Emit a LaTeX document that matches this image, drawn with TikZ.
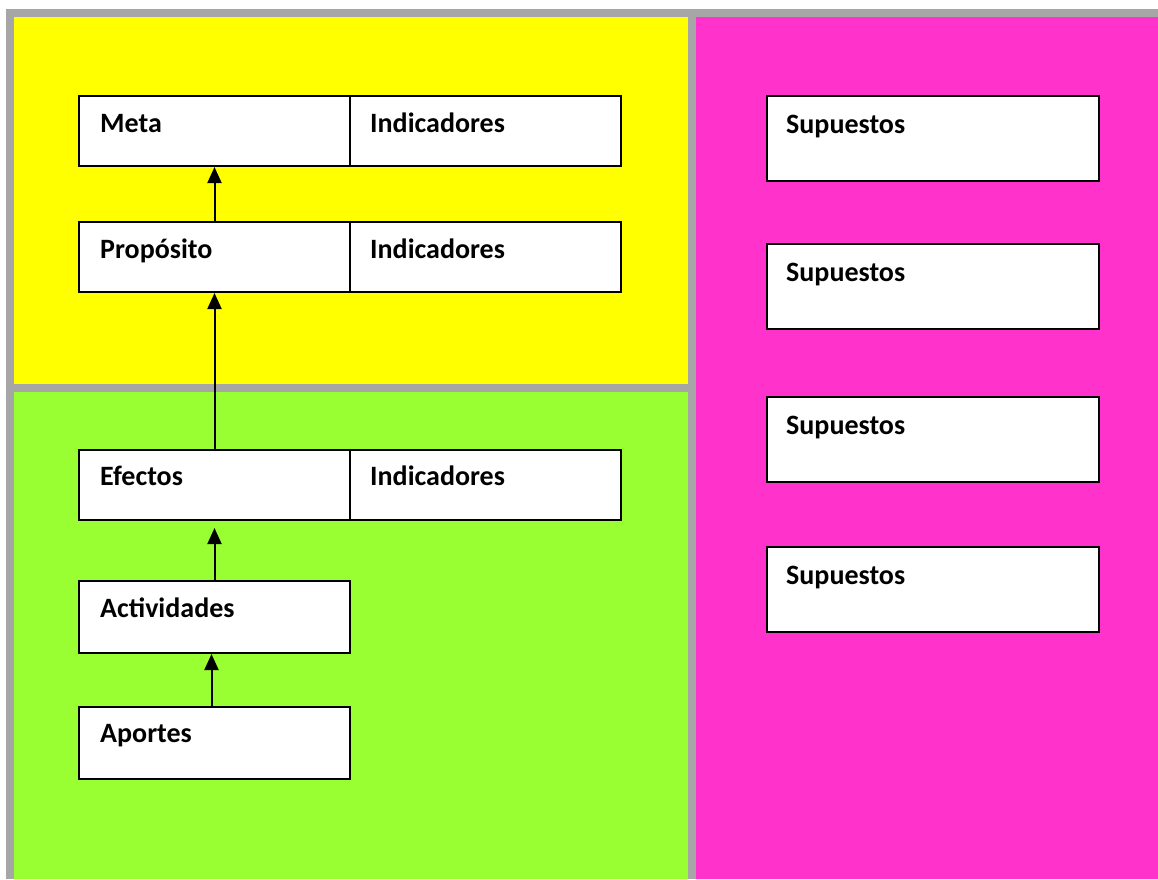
\documentclass[tikz,border=0pt]{standalone}
\usepackage{fontspec}
\setmainfont{Carlito}
\usetikzlibrary{arrows.meta}
\definecolor{framegray}{HTML}{A6A6A6}
\definecolor{yel}{HTML}{FFFF00}
\definecolor{grn}{HTML}{99FF33}
\definecolor{pnk}{HTML}{FF33CC}
\tikzset{
  cellbox/.style={draw=black, line width=2pt, fill=white, inner sep=0pt, anchor=north west, minimum height=70pt},
  lbl/.style={font=\fontsize{28}{34}\selectfont\bfseries, inner sep=0pt, anchor=base west, text=black},
  arr/.style={line width=2pt, -{Triangle[width=14pt,length=16pt]}},
}
\begin{document}
\begin{tikzpicture}[x=1pt,y=-1pt]
\useasboundingbox (0,0) rectangle (1158,879);
% background frame
\fill[white] (0,0) rectangle (1158,879);
\fill[framegray] (6,9) rectangle (1158,879);
\fill[yel] (14,16.5) rectangle (688,384);
\fill[grn] (14,392) rectangle (688,879);
\fill[pnk] (696,16.5) rectangle (1158,879);
% left column boxes
\node[cellbox, minimum width=271pt] (meta) at (78,95) {};
\node[cellbox, minimum width=271pt] (metaind) at (349,95) {};
\node[cellbox, minimum width=271pt] (prop) at (78,221) {};
\node[cellbox, minimum width=271pt] (propind) at (349,221) {};
\node[cellbox, minimum width=271pt] (efe) at (78,449) {};
\node[cellbox, minimum width=271pt] (efeind) at (349,449) {};
\node[cellbox, minimum width=271pt, minimum height=72pt] (act) at (78,580) {};
\node[cellbox, minimum width=271pt, minimum height=72pt] (apo) at (78,706) {};
% supuestos boxes
\node[cellbox, minimum width=332pt, minimum height=85pt] (sup1) at (766,95) {};
\node[cellbox, minimum width=332pt, minimum height=85pt] (sup2) at (766,243) {};
\node[cellbox, minimum width=332pt, minimum height=85pt] (sup3) at (766,396) {};
\node[cellbox, minimum width=332pt, minimum height=85pt] (sup4) at (766,546) {};
% labels
\node[lbl] (tmeta) at ([xshift=22pt,yshift=-37pt]meta.north west) {Meta};
\node[lbl] (tmetaind) at ([xshift=21pt,yshift=-37pt]metaind.north west) {Indicadores};
\node[lbl] (tprop) at ([xshift=22pt,yshift=-37pt]prop.north west) {Propósito};
\node[lbl] (tpropind) at ([xshift=21pt,yshift=-37pt]propind.north west) {Indicadores};
\node[lbl] (tefe) at ([xshift=22pt,yshift=-36pt]efe.north west) {Efectos};
\node[lbl] (tefeind) at ([xshift=21pt,yshift=-36pt]efeind.north west) {Indicadores};
\node[lbl] (tact) at ([xshift=22pt,yshift=-37pt]act.north west) {Actividades};
\node[lbl] (tapo) at ([xshift=22pt,yshift=-36pt]apo.north west) {Aportes};
\node[lbl] (tsup1) at ([xshift=20pt,yshift=-38pt]sup1.north west) {Supuestos};
\node[lbl] (tsup2) at ([xshift=20pt,yshift=-38pt]sup2.north west) {Supuestos};
\node[lbl] (tsup3) at ([xshift=20pt,yshift=-38pt]sup3.north west) {Supuestos};
\node[lbl] (tsup4) at ([xshift=20pt,yshift=-38pt]sup4.north west) {Supuestos};
% arrows
\draw[arr] (prop.north) -- (meta.south);
\draw[arr] (efe.north) -- (prop.south);
\draw[arr] (act.north) -- ([yshift=-7pt]efe.south);
\draw[arr] ([xshift=-3pt]apo.north) -- ([xshift=-3pt]act.south);
\end{tikzpicture}
\end{document}
